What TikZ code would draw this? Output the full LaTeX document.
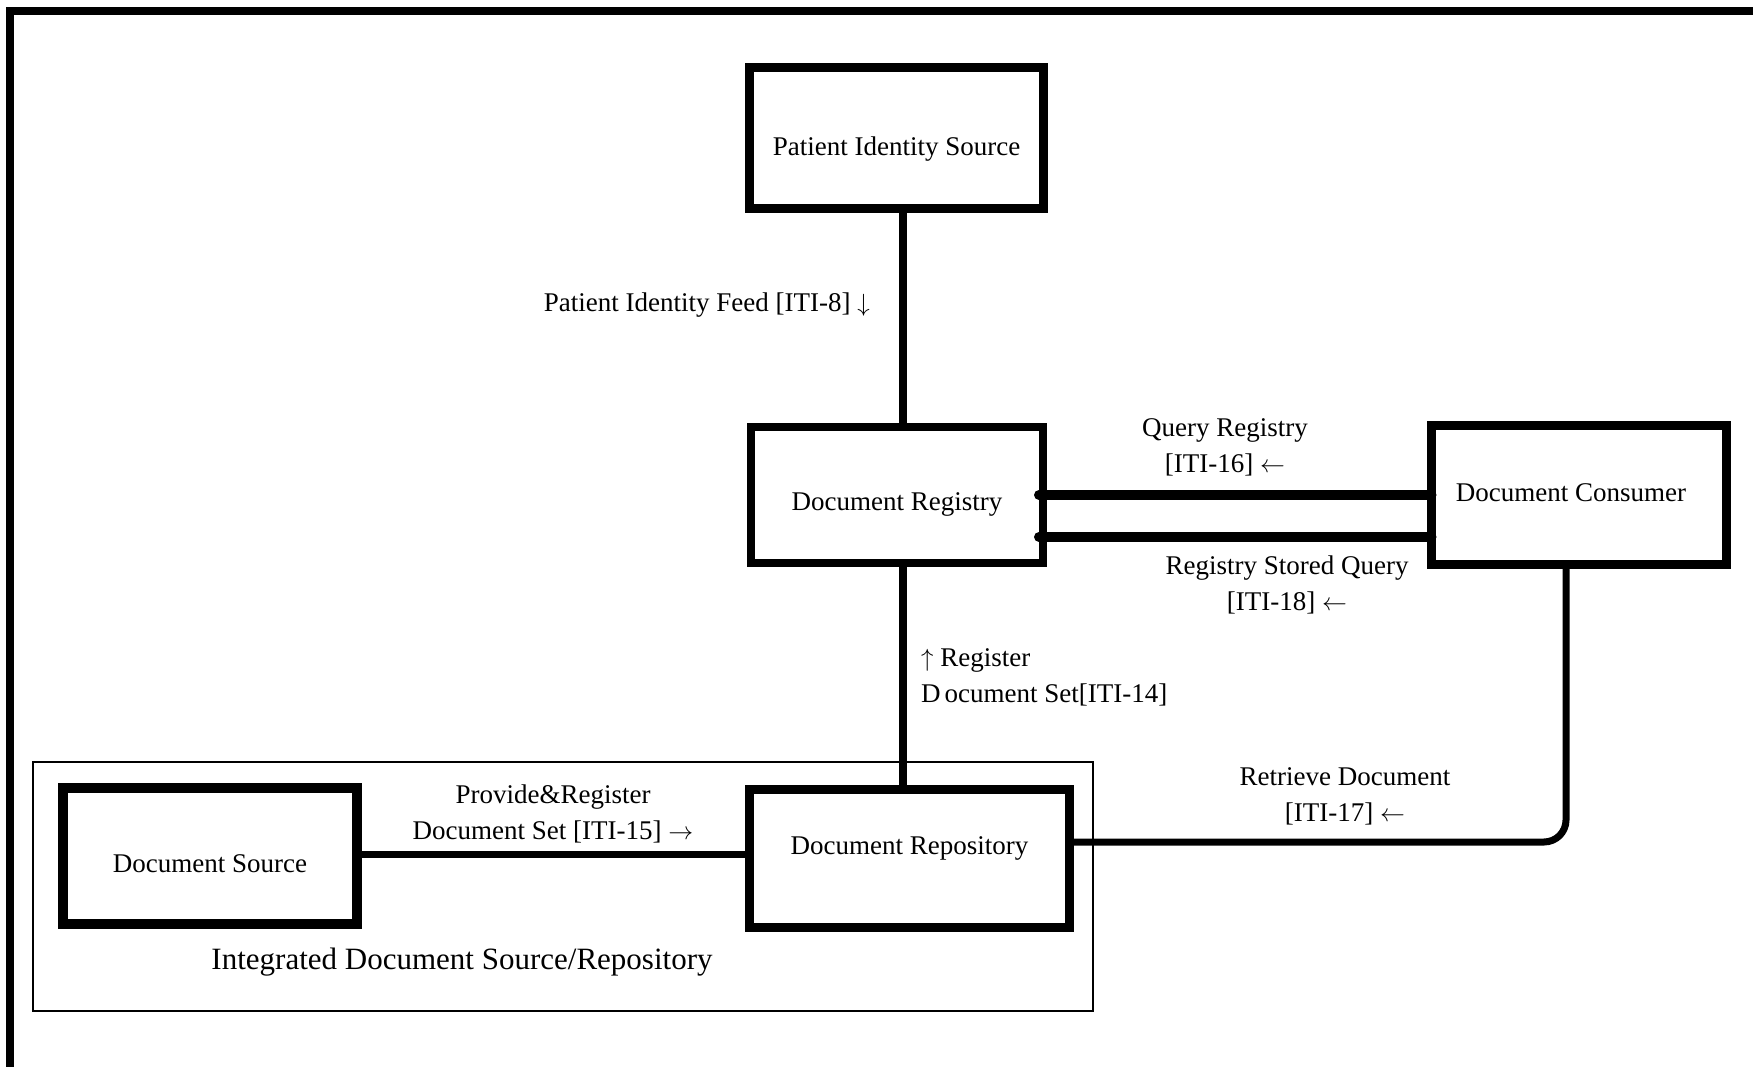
\documentclass[tikz,border=0pt]{standalone}
\usepackage{fontspec}
\setmainfont{Liberation Serif}
\newcommand{\lowertxt}[2]{\raisebox{-#1}[\height][\depth]{#2}}
\begin{document}
\begin{tikzpicture}[x=1pt,y=-1pt,
  actor/.style={draw=black,rectangle,inner sep=0pt,outer sep=0pt,font=\fontsize{27}{36}\selectfont},
  conn/.style={draw=black,line width=8pt},
  lbl/.style={font=\fontsize{27}{36}\selectfont,align=center,inner sep=0pt}]
\useasboundingbox (0,0) rectangle (1753,1067);
\fill[white] (0,0) rectangle (1753,1067);
% outer frame (only top and left visible)
\draw[line width=8pt] (9.7,1080) -- (9.7,10.7) -- (1770,10.7);
% group
\node[draw=black,line width=1.6pt,rectangle,inner sep=0pt,minimum width=1060pt,minimum height=249pt] (grp) at (563,886.5) {};
\node[lbl,font=\fontsize{31}{36}\selectfont] (grplbl) at (462,962) {Integrated Document Source/Repository};
% actors
\node[actor,line width=9pt,minimum width=294pt,minimum height=141pt] (pis) at (896.5,138) {\lowertxt{11pt}{Patient Identity Source}};
\node[actor,line width=8pt,minimum width=292pt,minimum height=136pt] (reg) at (897,495) {\lowertxt{9pt}{Document Registry}};
\node[actor,line width=9pt,minimum width=295pt,minimum height=139pt] (con) at (1579,495) {\lowertxt{-2pt}{Document Consumer}\kern16pt\relax};
\node[actor,line width=9pt,minimum width=320pt,minimum height=138pt] (rep) at (909.5,858.5) {\lowertxt{-10pt}{Document Repository}};
\node[actor,line width=10pt,minimum width=294pt,minimum height=136pt] (src) at (210,856) {\lowertxt{8pt}{Document Source}};
% connectors
\draw[conn] ([xshift=6.5pt]pis.south) -- ([xshift=6pt]reg.north);
\draw[conn] ([xshift=6pt]reg.south) -- ([xshift=-6.5pt]rep.north);
\draw[conn,line width=10pt,line cap=round] ([xshift=-4pt]reg.east) -- (reg.east -| con.west);
\draw[conn,line width=10pt,line cap=round] ([xshift=-4pt,yshift=-42pt]reg.east) -- ([yshift=-42pt]reg.east -| con.west);
\draw[conn,line width=7pt] ([yshift=2pt]src.east) -- ([yshift=2pt]src.east -| rep.west);
\draw[conn,line width=7pt,rounded corners=22pt] ([yshift=16.5pt]rep.east) -| ([xshift=-13pt]con.south);
% labels
\node[lbl,anchor=east] (l8) at (870,305) {Patient Identity Feed [ITI-8] $\downarrow$};
\node[lbl] (l16) at (1225,447) {Query Registry\\{}[ITI-16] $\leftarrow$};
\node[lbl] (l18) at (1287,585) {Registry Stored Query\\{}[ITI-18] $\leftarrow$};
\node[lbl,anchor=west,align=left] (l14) at (921,677) {$\uparrow$ Register\\D\hspace{4pt}ocument Set[ITI-14]};
\node[lbl] (l15) at (553,814) {Provide\&Register\\Document Set [ITI-15] $\rightarrow$};
\node[lbl] (l17) at (1345,796) {Retrieve Document\\{}[ITI-17] $\leftarrow$};
\end{tikzpicture}
\end{document}
